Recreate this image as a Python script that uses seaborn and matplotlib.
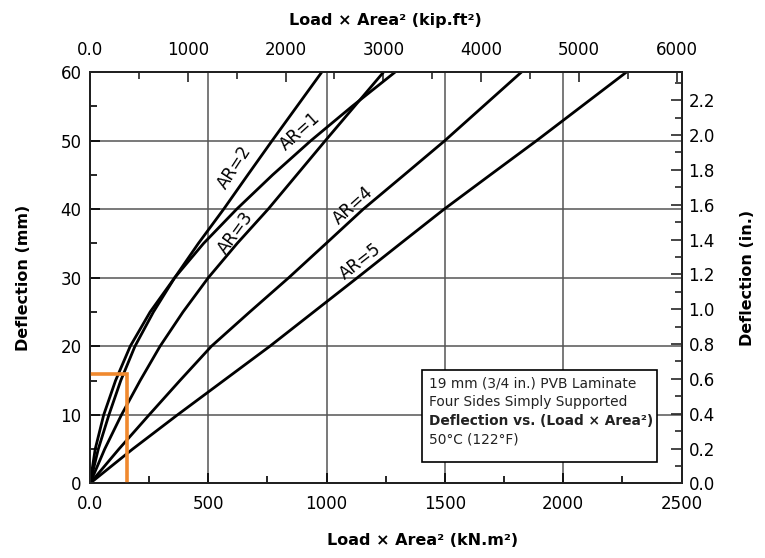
import numpy as np
import pandas as pd
import matplotlib
matplotlib.use("Agg")
import matplotlib.pyplot as plt
import matplotlib.ticker as mticker
from matplotlib.patches import Rectangle
import seaborn as sns

# deflection levels (mm) and the load x area^2 (kN.m^2) read for each aspect ratio
deflection_mm = [0, 5, 10, 15, 20, 25, 30, 35, 40, 45, 50, 55, 60]
ar1 = [0, 22, 58, 108, 170, 254, 358, 480, 620, 772, 934, 1108, 1290]
ar2 = [0, 35, 80, 130, 190, 268, 358, 458, 565, 667, 770, 875, 980]
ar3 = [0, 62, 133, 212, 296, 393, 500, 622, 753, 874, 995, 1118, 1241]
ar4 = [0, 122, 250, 380, 513, 675, 840, 998, 1155, 1328, 1500, 1662, 1824]
ar5 = [0, 180, 370, 565, 760, 945, 1130, 1313, 1497, 1692, 1888, 2078, 2268]
series = {"AR=1": ar1, "AR=2": ar2, "AR=3": ar3, "AR=4": ar4, "AR=5": ar5}

# curve labels: (load, deflection, rotation)
label_pos = {
    "AR=2": (610, 46.1, 57),
    "AR=1": (890, 51.3, 42),
    "AR=3": (615, 36.6, 54),
    "AR=4": (1112, 40.5, 42),
    "AR=5": (1145, 32.4, 38),
}

# orange example lines
design_load = [0, 157, 157]
design_defl = [16, 16, 0]

top_ticks = [0, 1000, 2000, 3000, 4000, 5000, 6000]
top_minor = [500, 1500, 2500, 3500, 4500, 5500]

box_lines = ["19 mm (3/4 in.) PVB Laminate",
             "Four Sides Simply Supported",
             "Deflection vs. (Load × Area²)",
             "50°C (122°F)"]

KN_PER_KIP_FT2 = 4.44822 * 0.09290304
MM_PER_IN = 25.4

rows = []
for name, vals in series.items():
    for x, y in zip(vals, deflection_mm):
        rows.append({"AR": name, "load": x, "defl": y})
df = pd.DataFrame(rows)

sns.set_theme(style="ticks")
plt.rcParams['font.family'] = ['DejaVu Sans']
plt.rcParams['text.color'] = 'black'
plt.rcParams['axes.labelcolor'] = 'black'
plt.rcParams['xtick.labelcolor'] = 'black'
plt.rcParams['ytick.labelcolor'] = 'black'

fig = plt.figure(figsize=(7.65, 5.58), dpi=100)
ax = fig.add_axes([90 / 765, (558 - 483.4) / 558, 591.5 / 765, 411.4 / 558])

ax.grid(True, which="major", color="#555555", linewidth=1.1)
sns.lineplot(data=df, x="load", y="defl", hue="AR", units="AR", estimator=None,
             sort=False, palette={k: "black" for k in series}, linewidth=2.0,
             legend=False, ax=ax, zorder=3)
ax.plot(design_load, design_defl, color="#F0892E", linewidth=2.6, zorder=4,
        solid_joinstyle="miter")

for name, (x, y, rot) in label_pos.items():
    ax.text(x, y, name, rotation=rot, ha="center", va="center", fontsize=12,
            rotation_mode="anchor", zorder=5)

ax.set_xlim(0, 2500)
ax.set_ylim(0, 60)
ax.xaxis.set_major_locator(mticker.MultipleLocator(500))
ax.xaxis.set_minor_locator(mticker.MultipleLocator(250))
ax.yaxis.set_major_locator(mticker.MultipleLocator(10))
ax.yaxis.set_minor_locator(mticker.MultipleLocator(5))
ax.xaxis.set_major_formatter(mticker.FuncFormatter(lambda v, p: "0.0" if v == 0 else f"{v:.0f}"))
ax.yaxis.set_major_formatter(mticker.FuncFormatter(lambda v, p: f"{v:.0f}"))
ax.tick_params(which="both", direction="in", labelsize=12, width=1.2, color="black",
               top=False, right=False)
ax.tick_params(which="major", length=7)
ax.tick_params(which="minor", length=5)
ax.tick_params(axis="x", pad=8)
ax.tick_params(axis="y", pad=6)
ax.set_xlabel("Load × Area² (kN.m²)", fontsize=11.5, fontweight="bold", labelpad=14)
ax.xaxis.set_label_coords(0.563, -0.12)
ax.set_ylabel("Deflection (mm)", fontsize=11.5, fontweight="bold", labelpad=21)
for s in ax.spines.values():
    s.set_linewidth(1.4)
    s.set_color("black")

# top axis in kip.ft^2
top = ax.secondary_xaxis("top", functions=(lambda x: x / KN_PER_KIP_FT2,
                                            lambda x: x * KN_PER_KIP_FT2))
top.xaxis.set_major_locator(mticker.FixedLocator(top_ticks))
top.xaxis.set_minor_locator(mticker.FixedLocator(top_minor))
top.xaxis.set_major_formatter(mticker.FuncFormatter(lambda v, p: "0.0" if v == 0 else f"{v:.0f}"))
top.tick_params(which="both", direction="in", labelsize=12, width=1.2, pad=9)
top.tick_params(which="major", length=7)
top.tick_params(which="minor", length=5)
top.set_xlabel("Load × Area² (kip.ft²)", fontsize=11.5, fontweight="bold", labelpad=12)

# right axis in inches
right = ax.twinx()
right.set_ylim(0, 60 / MM_PER_IN)
right.yaxis.set_major_locator(mticker.MultipleLocator(0.2))
right.yaxis.set_minor_locator(mticker.MultipleLocator(0.1))
right.yaxis.set_major_formatter(mticker.FormatStrFormatter("%.1f"))
right.tick_params(which="both", direction="in", labelsize=12, width=1.2, pad=5)
right.tick_params(which="major", length=8)
right.tick_params(which="minor", length=5)
right.set_ylabel("Deflection (in.)", fontsize=11.5, fontweight="bold", labelpad=18)
right.grid(False)

# info box
ax.add_patch(Rectangle((0.561, 0.053), 0.397, 0.223, transform=ax.transAxes,
                       facecolor="white", edgecolor="black", linewidth=1.2, zorder=6))
for i, line in enumerate(box_lines):
    ax.text(0.573, 0.244 - i * 0.046, line, transform=ax.transAxes, fontsize=9.9,
            fontweight="bold" if i == 2 else "normal", ha="left", va="center",
            color="#222222", zorder=7)

fig.savefig("out.png", dpi=100)
